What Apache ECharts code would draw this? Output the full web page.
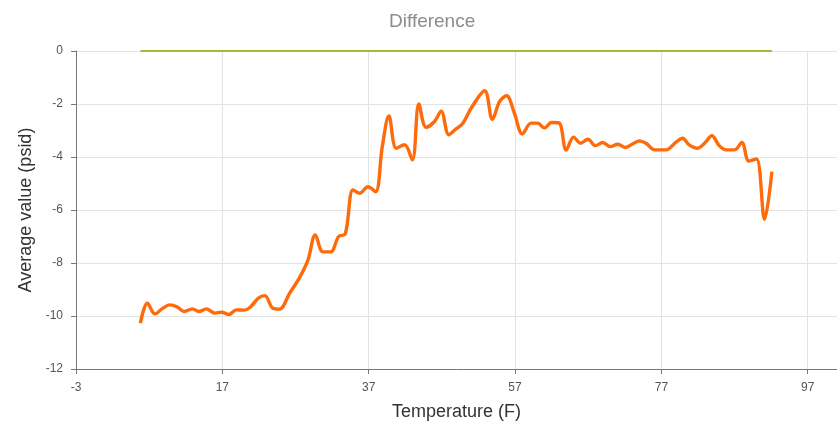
<!DOCTYPE html>
<html>
<head>
<meta charset="utf-8">
<script src="https://cdn.jsdelivr.net/npm/echarts@6/dist/echarts.min.js"></script>
<style>
  html, body { margin: 0; padding: 0; background: #ffffff; }
  #chart { width: 837px; height: 426px; }
</style>
</head>
<body>
<div id="chart"></div>
<script>
// Temperature (F) sample points
var temperatures = [
  5.8, 6.75, 7.8, 8.8, 9.8, 10.8, 11.75, 12.9, 13.8, 14.8, 15.95, 16.9, 17.9, 18.9,
  20.0, 20.8, 21.9, 22.8, 23.9, 24.8, 26.2, 27.55, 28.7, 29.7, 30.75, 31.8, 32.9,
  33.8, 34.85, 35.75, 36.9, 37.94, 38.86, 39.76, 40.77, 41.9, 42.96, 43.86, 44.85,
  46.0, 46.9, 47.95, 48.9, 49.85, 51.0, 52.85, 53.9, 54.9, 55.85, 56.9, 58.0, 59.2,
  60.1, 61.0, 62.0, 63.0, 64.0, 65.0, 65.95, 66.95, 68.0, 69.0, 70.0, 71.05, 72.1,
  73.1, 74.0, 74.9, 76.06, 77.0, 77.65, 79.0, 79.9, 80.8, 81.97, 82.9, 83.9, 84.9,
  85.85, 87.0, 88.0, 88.95, 90.0, 91.1, 92.1
];

// Average pressure difference (psid) at each temperature
var avgDifference = [
  -10.27, -9.52, -9.92, -9.72, -9.58, -9.65, -9.83, -9.73, -9.83, -9.73, -9.89, -9.86, -9.94, -9.77,
  -9.78, -9.67, -9.33, -9.23, -9.71, -9.74, -9.14, -8.55, -7.89, -6.94, -7.58, -7.58, -7.0,
  -6.9, -5.24, -5.37, -5.12, -5.31, -3.6, -2.45, -3.67, -3.54, -4.11, -2.0, -2.88,
  -2.66, -2.27, -3.16, -2.95, -2.74, -2.16, -1.5, -2.58, -1.9, -1.69, -2.34, -3.13, -2.72,
  -2.72, -2.9, -2.7, -2.71, -3.74, -3.25, -3.48, -3.33, -3.57, -3.45, -3.61, -3.52, -3.64,
  -3.5, -3.39, -3.48, -3.73, -3.73, -3.73, -3.44, -3.29, -3.54, -3.67, -3.48, -3.2, -3.57,
  -3.73, -3.73, -3.45, -4.15, -4.07, -6.35, -4.55
];

// Zero reference line endpoints
var referenceTemps = [5.8, 92.1];
var referenceValues = [0, 0];

// Axis settings
var xTicks = { min: -3, max: 101, interval: 20 };
var yTicks = { min: -12, max: 0, interval: 2 };

var seriesPoints = temperatures.map(function (t, i) { return [t, avgDifference[i]]; });
var referencePoints = referenceTemps.map(function (t, i) { return [t, referenceValues[i]]; });

var chart = echarts.init(document.getElementById('chart'), null, { renderer: 'canvas' });

var axisFont = 'Liberation Sans, Arial, sans-serif';

chart.setOption({
  animation: false,
  backgroundColor: '#ffffff',
  title: {
    text: 'Difference',
    left: 384,
    top: 7,
    textStyle: { fontFamily: axisFont, fontSize: 19, fontWeight: 'normal', color: '#8c8c8c' }
  },
  grid: { left: 76, right: 0, top: 51, bottom: 57, containLabel: false },
  xAxis: {
    type: 'value',
    min: xTicks.min,
    max: xTicks.max,
    interval: xTicks.interval,
    name: 'Temperature (F)',
    nameLocation: 'middle',
    nameGap: 34,
    nameTextStyle: { fontFamily: axisFont, fontSize: 18, color: '#333333' },
    axisLine: { show: true, onZero: false, lineStyle: { color: '#777777', width: 1 } },
    axisTick: { show: true, length: 5, lineStyle: { color: '#777777' } },
    axisLabel: { margin: 13, fontFamily: axisFont, fontSize: 12, color: '#555555', showMaxLabel: false },
    splitLine: { show: true, lineStyle: { color: '#e3e3e3', width: 1 } }
  },
  yAxis: {
    type: 'value',
    min: yTicks.min,
    max: yTicks.max,
    interval: yTicks.interval,
    name: 'Average value (psid)',
    nameLocation: 'middle',
    nameGap: 38,
    nameTextStyle: { fontFamily: axisFont, fontSize: 18, color: '#333333' },
    axisLine: { show: true, onZero: false, lineStyle: { color: '#777777', width: 1 } },
    axisTick: { show: true, length: 5, lineStyle: { color: '#777777' } },
    axisLabel: { margin: 13, fontFamily: axisFont, fontSize: 12, color: '#555555' },
    splitLine: { show: true, lineStyle: { color: '#e3e3e3', width: 1 } }
  },
  series: [
    {
      name: 'Zero',
      type: 'line',
      data: referencePoints,
      symbol: 'none',
      lineStyle: { color: '#aab83a', width: 2 },
      z: 2
    },
    {
      name: 'Difference',
      type: 'line',
      data: seriesPoints,
      smooth: 0.35,
      symbol: 'none',
      lineStyle: { color: '#ff6a0a', width: 3.4 },
      z: 3
    }
  ]
});
</script>
</body>
</html>
